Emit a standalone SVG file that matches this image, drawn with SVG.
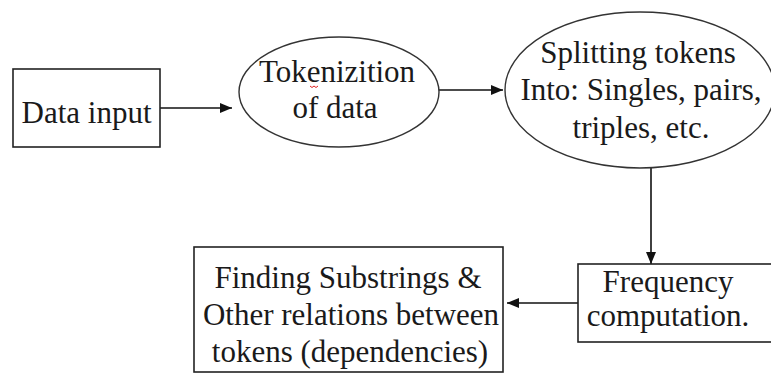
<svg xmlns="http://www.w3.org/2000/svg" width="771" height="374" viewBox="0 0 771 374">
  <style>
    .box { fill: #ffffff; stroke: #222222; stroke-width: 1.6; }
    .ell { fill: #ffffff; stroke: #333333; stroke-width: 1.4; }
    .lbl { font-size: 31px; fill: #1a1a1a; text-anchor: middle; }
    .edge { stroke: #111111; stroke-width: 1.6; fill: none; marker-end: url(#arr); }
  </style>
  <defs>
    <marker id="arr" viewBox="0 0 12 10" refX="12" refY="5" markerWidth="12" markerHeight="10" markerUnits="userSpaceOnUse" orient="auto">
      <path d="M0,0 L12,5 L0,10 Z" fill="#111111"/>
    </marker>
  </defs>
  <rect width="771" height="374" fill="#ffffff"/>

  <g id="connectors">
    <line class="edge" x1="160" y1="108" x2="232" y2="108"/>
    <line class="edge" x1="432" y1="90" x2="503" y2="90"/>
    <line class="edge" x1="651" y1="167" x2="651" y2="264"/>
    <line class="edge" x1="578" y1="303" x2="507" y2="303"/>
  </g>

  <g font-family="'Liberation Serif', 'DejaVu Serif', serif">
  <g id="data-input">
    <rect class="box" x="13" y="69" width="147" height="78"/>
    <text class="lbl" x="86.5" y="123">Data input</text>
  </g>

  <g id="tokenization">
    <ellipse class="ell" cx="339" cy="92" rx="100" ry="55"/>
    <text class="lbl" x="337" y="82">Tokenizition</text>
    <text class="lbl" x="335" y="118">of data</text>
    <path d="M310,86 q2,3 4,0 q2,3 4,0" stroke="#e02020" stroke-width="1" fill="none"/>
  </g>

  <g id="splitting">
    <ellipse class="ell" cx="640" cy="90" rx="135" ry="78"/>
    <text class="lbl" x="638" y="63">Splitting tokens</text>
    <text class="lbl" x="641" y="100">Into: Singles, pairs,</text>
    <text class="lbl" x="641" y="138">triples, etc.</text>
  </g>

  <g id="frequency">
    <rect class="box" x="578" y="264" width="220" height="78"/>
    <text class="lbl" x="668" y="292">Frequency</text>
    <text class="lbl" x="668" y="326">computation.</text>
  </g>

  <g id="finding">
    <rect class="box" x="194" y="247" width="309" height="125"/>
    <text class="lbl" x="348" y="288">Finding Substrings &amp;</text>
    <text class="lbl" x="351" y="325">Other relations between</text>
    <text class="lbl" x="350" y="362">tokens (dependencies)</text>
  </g>
  </g>
</svg>
